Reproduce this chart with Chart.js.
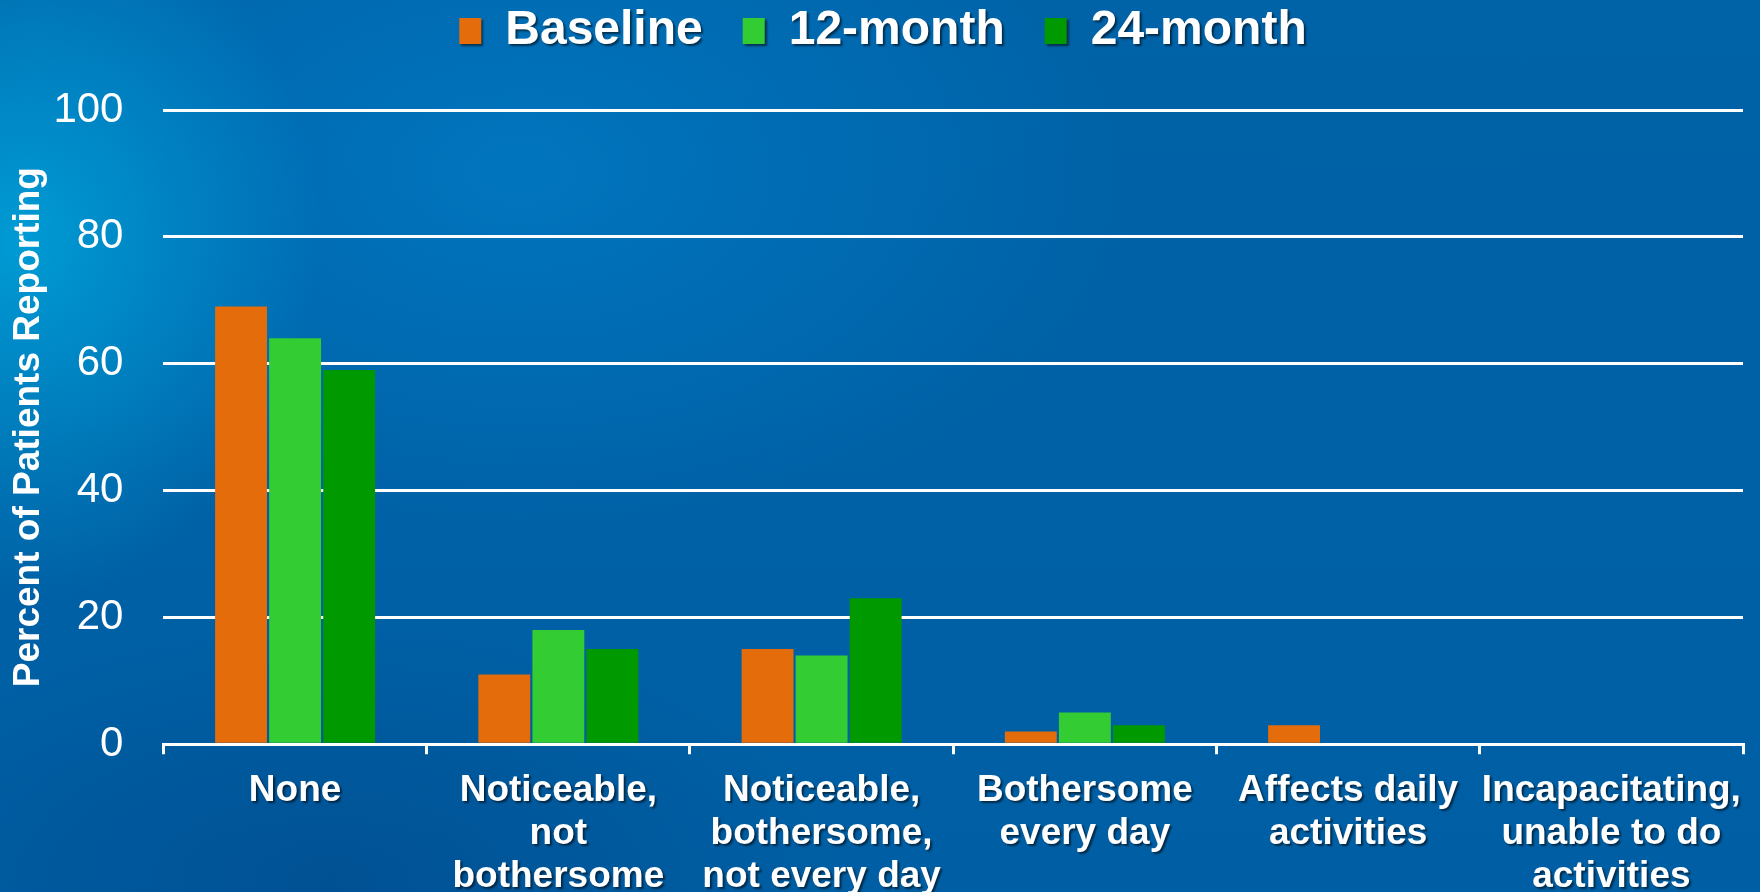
<!DOCTYPE html>
<html>
<head>
<meta charset="utf-8">
<script src="https://cdn.jsdelivr.net/npm/chart.js@4.4.1/dist/chart.umd.min.js"></script>
<style>
  html, body { margin: 0; padding: 0; }
  body {
    width: 1760px;
    height: 892px;
    overflow: hidden;
    background:
      radial-gradient(ellipse 300px 360px at 20px 240px, rgba(0,165,220,0.85), rgba(0,140,210,0) 100%),
      radial-gradient(ellipse 620px 380px at 520px 170px, rgba(0,125,200,0.7), rgba(0,115,190,0) 100%),
      radial-gradient(ellipse 520px 260px at 330px 880px, rgba(0,70,135,0.55), rgba(0,70,135,0) 100%),
      linear-gradient(180deg, #0062a7 0%, #005fa4 100%);
  }
  canvas { display: block; }
</style>
</head>
<body>
<canvas id="chart" width="1760" height="892"></canvas>
<script>
const categories = [
  ['None'],
  ['Noticeable,', 'not', 'bothersome'],
  ['Noticeable,', 'bothersome,', 'not every day'],
  ['Bothersome', 'every day'],
  ['Affects daily', 'activities'],
  ['Incapacitating,', 'unable to do', 'activities'],
];
const baseline = [69, 11, 15, 2, 3, 0];
const month12 = [64, 18, 14, 5, 0, 0];
const month24 = [59, 15, 23, 3, 0, 0];
const yTicks = [0, 20, 40, 60, 80, 100];

Chart.defaults.font.family = "'Liberation Sans', Arial, sans-serif";
Chart.defaults.color = '#fff';

// legend: drawn after the bars (so it gets the shadow), extra room below it, nudged right
const legendTweaks = {
  id: 'legendTweaks',
  beforeUpdate(chart) {
    const legend = chart.legend;
    if (!legend || legend._tweaked) return;
    legend._tweaked = true;
    legend._layers = () => [{ z: 1, draw: (area) => legend.draw(area) }];
    const fit = legend.fit;
    legend.fit = function () {
      fit.call(this);
      this.height += 45;
    };
  },
  afterLayout(chart) {
    chart.legend.left += 8;
    chart.legend.right += 8;
  },
  beforeDraw(chart) {
    chart.ctx.shadowColor = 'rgba(0,0,0,0)';
  },
  afterDatasetsDraw(chart) {
    const ctx = chart.ctx;
    ctx.shadowColor = 'rgba(0,0,0,0.55)';
    ctx.shadowOffsetX = 2;
    ctx.shadowOffsetY = 2;
    ctx.shadowBlur = 2;
  },
  afterDraw(chart) {
    chart.ctx.shadowColor = 'rgba(0,0,0,0)';
  },
};

new Chart(document.getElementById('chart'), {
  type: 'bar',
  data: {
    labels: categories,
    datasets: [
      { label: 'Baseline', data: baseline, backgroundColor: '#e46c0a' },
      { label: '12-month', data: month12, backgroundColor: '#33cc33' },
      { label: '24-month', data: month24, backgroundColor: '#009900' },
    ],
  },
  options: {
    responsive: false,
    animation: false,
    layout: { padding: { left: 7, right: 17, top: -33, bottom: -21 } },
    datasets: {
      bar: { barPercentage: 0.96, categoryPercentage: 0.616, borderWidth: 0 },
    },
    plugins: {
      tooltip: { enabled: false },
      legend: {
        position: 'top',
        labels: {
          color: '#fff',
          font: { size: 48, weight: 'bold' },
          boxWidth: 22,
          boxHeight: 26,
          padding: 40,
        },
      },
    },
    scales: {
      x: {
        grid: { offset: true, drawOnChartArea: false, color: '#fff', lineWidth: 3, tickLength: 10 },
        border: { color: '#fff', width: 3 },
        ticks: {
          z: 1,
          color: '#fff',
          font: { size: 37, weight: 'bold', lineHeight: 1.16 },
          padding: 15,
          maxRotation: 0,
          autoSkip: false,
        },
      },
      y: {
        min: 0,
        max: 100,
        afterBuildTicks: (scale) => { scale.ticks = yTicks.map((v) => ({ value: v })); },
        ticks: { color: '#fff', font: { size: 42 }, padding: 40 },
        grid: { color: '#fff', lineWidth: 3, drawTicks: false },
        border: { display: false },
        title: {
          display: true,
          text: 'Percent of Patients Reporting',
          color: '#fff',
          font: { size: 37, weight: 'bold' },
          padding: { top: 0, bottom: -38 },
        },
      },
    },
  },
  plugins: [legendTweaks],
});
</script>
</body>
</html>
